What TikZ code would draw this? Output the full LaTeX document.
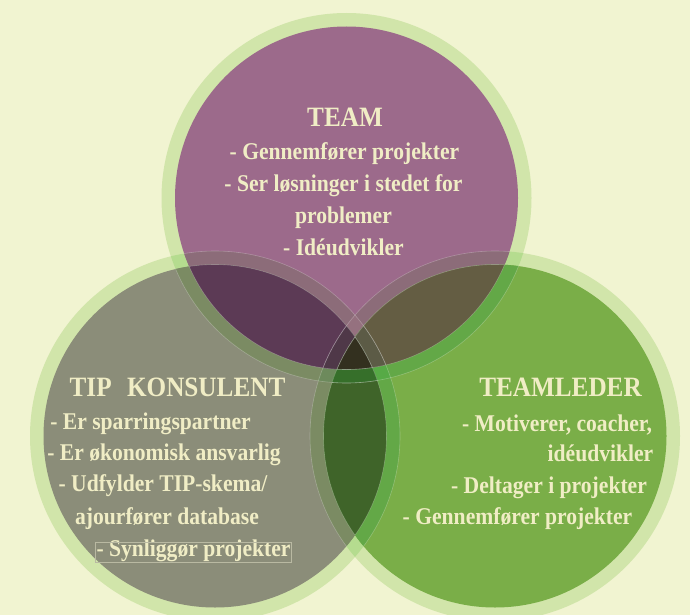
\documentclass[tikz,border=0pt]{standalone}
\usepackage{fontspec}
\setmainfont{Liberation Serif}[FakeStretch=0.9]
\usetikzlibrary{calc}
\definecolor{bgc}{HTML}{F1F4D1}
\definecolor{ringc}{HTML}{D1E5AA}
\definecolor{rr}{HTML}{B5DC8F}
\definecolor{pur}{HTML}{9C6A8B}
\definecolor{gry}{HTML}{8B8D79}
\definecolor{grn}{HTML}{7AAE48}
\definecolor{tl}{HTML}{5C3A55}
\definecolor{tr}{HTML}{645D43}
\definecolor{lr}{HTML}{3F6429}
\definecolor{ctr}{HTML}{33301F}
\definecolor{rpur}{HTML}{8C6C79}
\definecolor{rgry}{HTML}{7B8B63}
\definecolor{rgrn}{HTML}{63A847}
\definecolor{rrpur}{HTML}{95717F}
\definecolor{rrgry}{HTML}{6D8A5C}
\definecolor{rrgrn}{HTML}{57AA46}
\definecolor{rtl}{HTML}{4F3848}
\definecolor{rtr}{HTML}{5C5B46}
\definecolor{rlr}{HTML}{366F2A}
\definecolor{txtc}{HTML}{F0EDC5}
\definecolor{boxc}{HTML}{B9B9A2}
\begin{document}
\begin{tikzpicture}[x=1pt,y=-1pt,
  txt/.style={text=txtc, font=\bfseries\fontsize{24}{24}\selectfont, inner sep=0pt, anchor=base},
  head/.style={txt, font=\bfseries\fontsize{28}{28}\selectfont},
  edge/.style={white, opacity=0.25, line width=0.6pt}]
\def\Dt{(346.5,198) circle (171.5pt)}
\def\Dl{(215,436) circle (171.5pt)}
\def\Dr{(495,436) circle (171.5pt)}
\def\Ot{(346.5,198) circle (185pt)}
\def\Ol{(215,436) circle (185pt)}
\def\Or{(495,436) circle (185pt)}
\useasboundingbox (0,0) rectangle (690,615);
\fill[bgc] (0,0) rectangle (690,615);
% rings
\fill[ringc] \Ot; \fill[ringc] \Ol; \fill[ringc] \Or;
\begin{scope}\clip \Ot; \fill[rr] \Ol; \fill[rr] \Or; \end{scope}
\begin{scope}\clip \Ol; \fill[rr] \Or; \end{scope}
% disks
\fill[pur] \Dt; \fill[gry] \Dl; \fill[grn] \Dr;
% rings over disks
\begin{scope}\clip \Dt; \fill[rpur] \Ol; \fill[rpur] \Or; \clip \Ol; \fill[rrpur] \Or; \end{scope}
\begin{scope}\clip \Dl; \fill[rgry] \Ot; \fill[rgry] \Or; \clip \Ot; \fill[rrgry] \Or; \end{scope}
\begin{scope}\clip \Dr; \fill[rgrn] \Ot; \fill[rgrn] \Ol; \clip \Ot; \fill[rrgrn] \Ol; \end{scope}
% lenses
\begin{scope}\clip \Dt; \fill[tl] \Dl; \fill[tr] \Dr; \end{scope}
\begin{scope}\clip \Dl; \fill[lr] \Dr; \end{scope}
% rings over lenses
\begin{scope}\clip \Dt; \clip \Dl; \fill[rtl] \Or; \end{scope}
\begin{scope}\clip \Dt; \clip \Dr; \fill[rtr] \Ol; \end{scope}
\begin{scope}\clip \Dl; \clip \Dr; \fill[rlr] \Ot; \end{scope}
% centre
\begin{scope}\clip \Dt; \clip \Dl; \fill[ctr] \Dr; \end{scope}
% faint edges
\begin{scope}\clip \Dl; \draw[edge] \Dt \Ot; \draw[edge] \Dr \Or; \end{scope}
\begin{scope}\clip \Dt; \draw[edge] \Dl \Ol; \draw[edge] \Dr \Or; \end{scope}
\begin{scope}\clip \Dr; \draw[edge] \Dt \Ot; \draw[edge] \Dl \Ol; \end{scope}
% texts: TEAM
\node[head] (h1) at (345,127) {TEAM};
\node[txt] (a1) at (344.5,159) {- Gennemfører projekter};
\node[txt] (a2) at (343.5,191.5) {- Ser løsninger i stedet for};
\node[txt] (a3) at (343.5,223) {problemer};
\node[txt] (a4) at (343.5,255) {- Idéudvikler};
% TIP KONSULENT
\node[head] (h2) at (177.5,396) {TIP\hspace{0.55em}KONSULENT};
\node[txt] (b1) at (150.5,429) {- Er sparringspartner};
\node[txt] (b2) at (164,460.5) {- Er økonomisk ansvarlig};
\node[txt] (b3) at (163,491.5) {- Udfylder TIP-skema/};
\node[txt] (b4) at (167,524.5) {ajourfører database};
\node[txt] (b5) at (193.5,556.5) {- Synliggør projekter};
\draw[boxc, line width=0.6pt] ($(b5.base west)+(-1,-14.5)$) rectangle ($(b5.base east)+(1,5.5)$);
% TEAMLEDER
\node[head] (h3) at (560.5,396.5) {TEAMLEDER};
\node[txt] (c1) at (557,431) {- Motiverer, coacher,};
\node[txt] (c2) at (600.5,461.5) {idéudvikler};
\node[txt] (c3) at (549,493) {- Deltager i projekter};
\node[txt] (c4) at (517.5,524) {- Gennemfører projekter};
\end{tikzpicture}
\end{document}
